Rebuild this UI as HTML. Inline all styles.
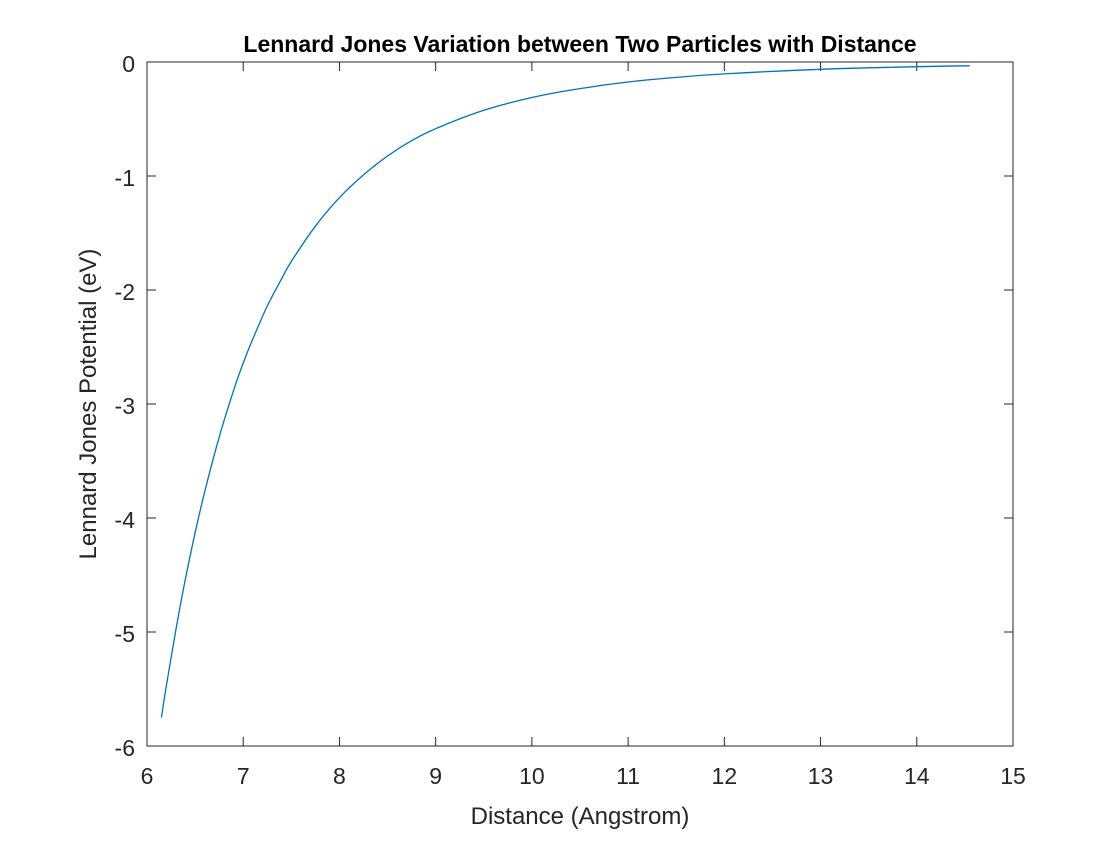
<!DOCTYPE html>
<html><head><meta charset="utf-8"><style>
body{margin:0;background:#fff;}
svg text{font-family:"Liberation Sans",Arial,sans-serif;fill:#262626;}
</style></head><body>
<svg id="chart" width="1120" height="840">
<rect width="1120" height="840" fill="#fff"/>
<g id="axes"></g>
<text x="580" y="52" text-anchor="middle" font-size="23" font-weight="bold" fill="#000" style="fill:#000">Lennard Jones Variation between Two Particles with Distance</text>
<text x="580" y="824" text-anchor="middle" font-size="24">Distance (Angstrom)</text>
<text transform="translate(96,404) rotate(-90)" text-anchor="middle" font-size="24">Lennard Jones Potential (eV)</text>
</svg>
<script>
const xVals=[6.15,6.2,6.3,6.4,6.5,6.6,6.75,6.9,7.0,7.1,7.25,7.4,7.5,7.75,8.0,8.25,8.5,8.75,9.0,9.5,10.0,10.5,11.0,11.5,12.0,13.0,14.0,14.55];
const yVals=[-5.75,-5.48,-4.98,-4.53,-4.13,-3.77,-3.29,-2.88,-2.64,-2.43,-2.14,-1.90,-1.75,-1.44,-1.19,-0.99,-0.825,-0.69,-0.585,-0.424,-0.311,-0.233,-0.175,-0.135,-0.104,-0.064,-0.0415,-0.033];
const xTicks=[6,7,8,9,10,11,12,13,14,15];
const yTicks=[0,-1,-2,-3,-4,-5,-6];
const L=147,R=1013,T=62,B=746;
const sx=v=>L+(v-6)/(15-6)*(R-L);
const sy=v=>T+(0-v)/6*(B-T);
const ns='http://www.w3.org/2000/svg';
const g=document.getElementById('axes');
function mk(t,a){const e=document.createElementNS(ns,t);for(const k in a)e.setAttribute(k,a[k]);g.appendChild(e);return e;}
const box=mk('rect',{x:L,y:T,width:R-L,height:B-T,fill:'none',stroke:'#262626','stroke-width':1});


xTicks.forEach(v=>{const x=sx(v);
mk('line',{x1:x,x2:x,y1:B,y2:B-9,stroke:'#262626'});
mk('line',{x1:x,x2:x,y1:T,y2:T+9,stroke:'#262626'});
const t=mk('text',{x:x,y:B+38,'text-anchor':'middle','font-size':23});t.textContent=v;

});
yTicks.forEach(v=>{const y=sy(v);
mk('line',{x1:L,x2:L+9,y1:y,y2:y,stroke:'#262626'});
mk('line',{x1:R,x2:R-9,y1:y,y2:y,stroke:'#262626'});
const t=mk('text',{x:L-12,y:y+10,'text-anchor':'end','font-size':23});t.textContent=v;

});
const P=xVals.map((v,i)=>[sx(v),sy(yVals[i])]);
let d='M'+P[0][0].toFixed(1)+' '+P[0][1].toFixed(1);
for(let i=0;i<P.length-1;i++){
const p0=P[Math.max(i-1,0)],p1=P[i],p2=P[i+1],p3=P[Math.min(i+2,P.length-1)];
const c1=[p1[0]+(p2[0]-p0[0])/6,p1[1]+(p2[1]-p0[1])/6];
const c2=[p2[0]-(p3[0]-p1[0])/6,p2[1]-(p3[1]-p1[1])/6];
d+='C'+c1[0].toFixed(1)+' '+c1[1].toFixed(1)+' '+c2[0].toFixed(1)+' '+c2[1].toFixed(1)+' '+p2[0].toFixed(1)+' '+p2[1].toFixed(1);}
const p=mk('path',{d:d,fill:'none',stroke:'#0072BD','stroke-width':1.3,'stroke-linejoin':'round'});


</script>
</body></html>
